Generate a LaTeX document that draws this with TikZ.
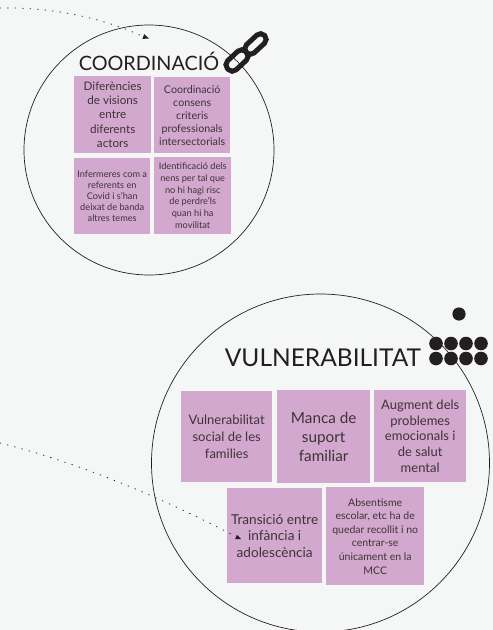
\documentclass[tikz,border=0pt]{standalone}
\usepackage{fontspec}
\setmainfont{Lato}
\usetikzlibrary{arrows.meta}
\definecolor{bgc}{HTML}{F5F7F6}
\definecolor{boxc}{HTML}{D2A8CE}
\definecolor{txtc}{HTML}{3E3339}
\definecolor{inkc}{HTML}{231F20}
\tikzset{
  card/.style={fill=boxc,draw=none,text=txtc,align=center,inner sep=0pt,anchor=north west},
  bubble/.style={draw=inkc,line width=0.7pt,fill=none},
  heading/.style={text=inkc,inner sep=0pt},
  trail/.style={draw=inkc,line width=0.8pt,dash pattern=on 0.8pt off 6.7pt,line cap=round},
  tipmark/.style={fill=inkc,draw=none},
  blob/.style={fill=inkc,draw=none},
  linkring/.style={draw=inkc,line width=5pt,rounded corners=5.5pt}
}
\newcommand{\fs}[2]{\fontsize{#1}{#2}\selectfont}
\begin{document}
\begin{tikzpicture}[x=1pt,y=-1pt]
\useasboundingbox[fill=bgc] (0,0) rectangle (493,630);
% big circles
\draw[bubble] (149,150) circle[radius=125];
\begin{scope}
\clip (0,0) rectangle (493,630);
\draw[bubble] (320.5,463) circle[radius=169];
\end{scope}
% cards top
\node[card,minimum width=77pt,minimum height=77pt,font=\fs{11.7}{14.3}] (a) at (74,76) {Diferències\\de visions\\entre\\diferents\\actors};
\node[card,minimum width=76pt,minimum height=76pt,font=\fs{10.7}{13}] (b) at (154,77) {Coordinació\\consens\\criteris\\professionals\\intersectorials};
\node[card,minimum width=76pt,minimum height=76pt,font=\fs{9.2}{11.2}] (c) at (74,158) {Infermeres com a\\referents en\\Covid i s'han\\deixat de banda\\altres temes};
\node[card,minimum width=77pt,minimum height=77pt,font=\fs{9.2}{11.8}] (d) at (154,157) {Identificació dels\\nens per tal que\\no hi hagi risc\\de perdre'ls\\quan hi ha\\movilitat};
% cards bottom
\node[card,minimum width=91pt,minimum height=91pt,font=\fs{13}{16.7}] (v) at (181,391) {Vulnerabilitat\\social de les\\families};
\node[card,minimum width=93pt,minimum height=93pt,font=\fs{15.3}{19}] (m) at (277,390) {Manca de\\suport\\familiar};
\node[card,minimum width=92pt,minimum height=92pt,font=\fs{13}{15.8}] (u) at (374,390) {Augment dels\\problemes\\emocionals i\\de salut\\mental};
\node[card,minimum width=95pt,minimum height=95pt,font=\fs{13.6}{16.6}] (t) at (227,488) {Transició entre\\infància i\\adolescència};
\node[card,minimum width=98pt,minimum height=98pt,font=\fs{10.5}{13.6}] (s) at (326,487) {Absentisme\\escolar, etc ha de\\quedar recollit i no\\centrar-se\\únicament en la\\MCC};
% headings
\node[heading,font=\fs{19.8}{24}] (h1) at (149,61) {COORDINACIÓ};
\node[heading,font=\fs{24.5}{28}] (h2) at (323,358) {VULNERABILITAT};
% link icon
\begin{scope}[shift={(237,60.5)},rotate=43]
\draw[linkring] (-12.5,-6.2) rectangle (12.5,6.2);
\end{scope}
\begin{scope}[shift={(255.5,44)},rotate=43]
\draw[linkring] (-12.5,-5.6) rectangle (12.5,5.6);
\end{scope}
% dots
\fill[blob] (459,314) circle[radius=6.6];
\foreach \px in {436,451,466,481}{
  \fill[blob] (\px,343.5) circle[radius=6.8];
  \fill[blob] (\px,358.5) circle[radius=6.8];
}
% dotted trails
\coordinate (s1) at (0,8);
\coordinate (e1) at (142,36);
\coordinate (s2) at (0,443);
\coordinate (e2) at (235,536);
\draw[trail] (s1) .. controls (50,7) and (100,17) .. (e1);
\fill[tipmark] (149,38.5) -- (144.2,34.1) -- (142.4,38.9) -- cycle;
\draw[trail] (s2) .. controls (80,463) and (160,497) .. (e2);
\fill[tipmark] (241,539) -- (236.9,534.8) -- (235.1,539.2) -- cycle;
\end{tikzpicture}
\end{document}
